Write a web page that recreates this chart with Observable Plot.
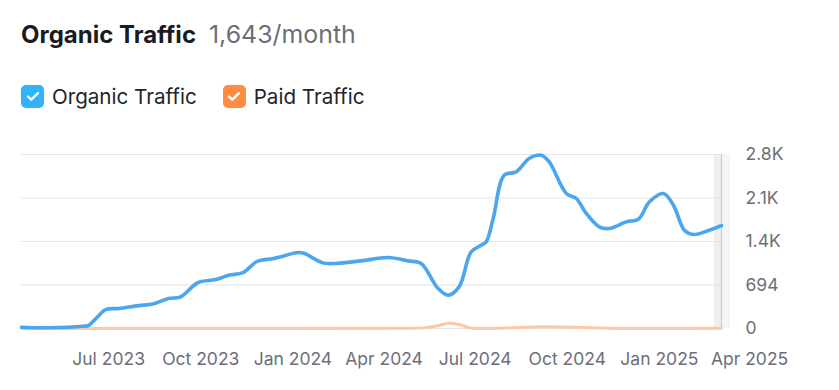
<!DOCTYPE html>
<html>
<head>
<meta charset="utf-8">
<script src="https://cdn.jsdelivr.net/npm/d3@7"></script>
<script src="https://cdn.jsdelivr.net/npm/@observablehq/plot@0.6"></script>
<style>
  html, body { margin: 0; padding: 0; background: #fff; }
  body { width: 839px; height: 390px; position: relative; overflow: hidden; font-family: Inter, "Noto Sans", sans-serif; }
  #title { position: absolute; left: 21px; top: 17px; line-height: 34px; white-space: nowrap; }
  #title .main { font-weight: 700; color: #191b23; font-size: 24px; }
  #title .sub { color: #6c6e79; margin-left: 13px; font-weight: 400; font-size: 24.9px; }
  #legend { position: absolute; left: 21px; top: 84px; display: flex; align-items: center; font-size: 20.6px; color: #22252d; }
  .item { display: flex; align-items: center; margin-right: 26px; }
  .box { width: 23px; height: 23px; border-radius: 5px; display: flex; align-items: center; justify-content: center; margin-right: 8px; }
  #chart { position: absolute; left: 0; top: 140px; }
</style>
</head>
<body>
<div id="title"></div>
<div id="legend"></div>
<div id="chart"></div>
<script>
// ---- data ----
const titleText = "Organic Traffic";
const subtitleText = "1,643/month";
const seriesNames = ["Organic Traffic", "Paid Traffic"];
const seriesColors = ["#2fb4f8", "#ff8c3f"];

const organicDates = ["2023-04-05","2023-05-02","2023-06-05","2023-06-11","2023-06-19","2023-06-28","2023-07-11","2023-07-31","2023-08-14","2023-08-30","2023-09-11","2023-09-28","2023-10-16","2023-10-29","2023-11-12","2023-11-25","2023-11-30","2023-12-13","2024-01-06","2024-01-12","2024-01-31","2024-02-11","2024-03-09","2024-04-05","2024-04-25","2024-05-08","2024-05-25","2024-06-04","2024-06-15","2024-06-27","2024-07-07","2024-07-12","2024-07-19","2024-07-30","2024-08-11","2024-08-24","2024-09-05","2024-09-13","2024-09-30","2024-10-10","2024-10-20","2024-11-02","2024-11-12","2024-11-29","2024-12-11","2024-12-22","2025-01-05","2025-01-15","2025-01-26","2025-02-04","2025-02-17","2025-03-04"];
const organicValues = [20,12,35,50,170,300,320,365,390,480,505,730,780,850,890,1060,1090,1117,1212,1200,1047,1037,1079,1133,1079,1037,638,531,664,1222,1329,1382,1755,2446,2498,2712,2765,2658,2154,2074,1835,1621,1595,1701,1744,2020,2154,1967,1568,1500,1552,1643];

const paidDates = ["2023-04-05","2023-10-01","2024-04-20","2024-05-10","2024-05-25","2024-06-04","2024-06-15","2024-06-27","2024-08-05","2024-09-05","2024-10-10","2024-11-12","2025-03-04"];
const paidValues = [2,2,3,10,45,85,65,6,12,28,20,4,3];

const yTicks = [0, 694, 1388, 2082, 2776];
const yTickLabels = ["0", "694", "1.4K", "2.1K", "2.8K"];
const xTicks = ["2023-07-01","2023-10-01","2024-01-01","2024-04-01","2024-07-01","2024-10-01","2025-01-01","2025-04-01"];
const xTickLabels = ["Jul 2023","Oct 2023","Jan 2024","Apr 2024","Jul 2024","Oct 2024","Jan 2025","Apr 2025"];
const xDomain = ["2023-04-05", "2025-03-04"];
const highlightPeriod = ["2025-02-25", "2025-03-04", "2025-03-13"];

// ---- build ----
const parse = d3.utcParse("%Y-%m-%d");
const organic = organicDates.map((d, i) => ({date: parse(d), value: organicValues[i]}));
const paid = paidDates.map((d, i) => ({date: parse(d), value: paidValues[i]}));
const xt = xTicks.map((d, i) => ({date: parse(d), label: xTickLabels[i]}));
const yt = yTicks.map((v, i) => ({value: v, label: yTickLabels[i]}));
const hp = highlightPeriod.map(parse);

document.getElementById("title").innerHTML =
  `<span class="main">${titleText}</span><span class="sub">${subtitleText}</span>`;

const check = `<svg width="14" height="11" viewBox="0 0 14 11"><path d="M2 5.6 L5.3 8.6 L12 2.2" fill="none" stroke="#fff" stroke-width="2.4" stroke-linecap="round" stroke-linejoin="round"/></svg>`;
document.getElementById("legend").innerHTML = seriesNames.map((n, i) =>
  `<div class="item"><div class="box" style="background:${seriesColors[i]}">${check}</div><span>${n}</span></div>`).join("");

const chart = Plot.plot({
  width: 839,
  height: 250,
  marginLeft: 21,
  marginRight: 118,
  marginTop: 14,
  marginBottom: 62,
  style: {fontFamily: "Inter, 'Noto Sans', sans-serif", background: "transparent", overflow: "visible"},
  x: {type: "utc", domain: xDomain.map(parse), axis: null},
  y: {domain: [0, 2776], axis: null},
  marks: [
    Plot.rect([{x1: hp[0], x2: hp[1]}], {x1: "x1", x2: "x2", y1: 0, y2: 2776, fill: "#edeff1", clip: false}),
    Plot.rect([{x1: hp[1], x2: hp[2]}], {x1: "x1", x2: "x2", y1: 0, y2: 2776, fill: "#f4f5f6", clip: false}),
    Plot.ruleY(yt, {y: "value", stroke: "#e3e5e9", strokeWidth: 1.2}),
    Plot.ruleX([hp[1]], {y1: 0, y2: 2776, stroke: "#c7cbd0", strokeWidth: 1.2}),
    Plot.line(paid, {x: "date", y: "value", stroke: "#fdc9a4", strokeWidth: 3, curve: "catmull-rom"}),
    Plot.line(organic, {x: "date", y: "value", stroke: "#4ba6ee", strokeWidth: 3.6, curve: "catmull-rom", strokeLinecap: "round"}),
    Plot.text(yt, {y: "value", text: "label", frameAnchor: "right", dx: 24, textAnchor: "start", fontSize: 17.5, fill: "#6c6e79"}),
    Plot.text(xt, {x: "date", text: "label", frameAnchor: "bottom", dy: 36, fontSize: 17.5, fill: "#6c6e79"})
  ]
});
document.getElementById("chart").appendChild(chart);
</script>
</body>
</html>
